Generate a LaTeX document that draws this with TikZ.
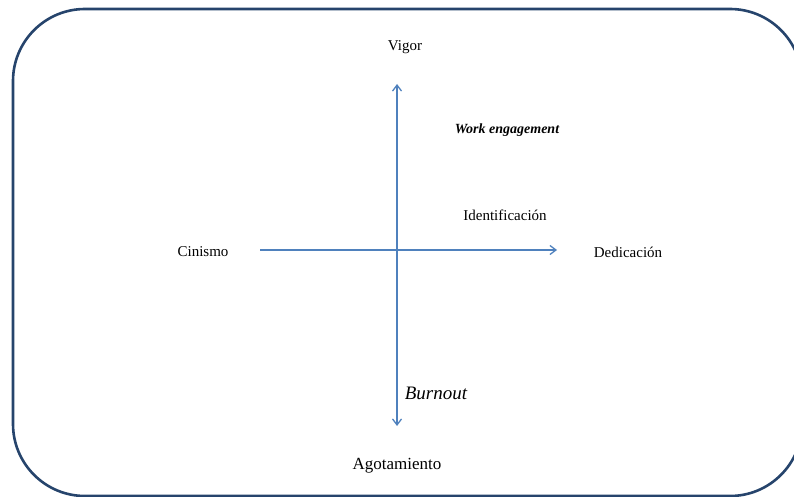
\documentclass[tikz,border=0pt]{standalone}
\usepackage{fontspec}
\setmainfont{Liberation Serif}
\usetikzlibrary{arrows.meta}
\definecolor{frameblue}{RGB}{38,68,108}
\definecolor{axisblue}{RGB}{79,129,189}

\begin{document}
\begin{tikzpicture}[x=1pt,y=-1pt,
    lbl/.style={inner sep=0pt,font=\fontsize{15}{17}\selectfont},
    axis/.style={draw=axisblue,line width=1.3pt,-{Straight Barb[length=6pt,width=9pt]}}]
        \clip (0,0) rectangle (794,497);
        \draw[frameblue,line width=2.6pt,rounded corners=72pt] (13,9) rectangle (802,496);

        \node[lbl] (vig) at (405,47) {Vigor};
        \node[lbl] (cin) at (203,252) {Cinismo};
        \node[lbl] (ded) at (628,252) {Dedicación};
        \node[lbl] (ide) at (505,215) {Identificación};
        \node[lbl,font=\fontsize{14}{16}\selectfont\bfseries\itshape] (we) at (507,130) {Work engagement};
        \node[lbl,font=\fontsize{19}{21}\selectfont\itshape] (bo) at (436,393) {Burnout};
        \node[lbl,font=\fontsize{17}{19}\selectfont] (ago) at (397,466) {Agotamiento};

        \coordinate (top) at (397,84); \coordinate (bot) at (397,426);
        \coordinate (lft) at (260,250); \coordinate (rgt) at (557,250);
        \draw[axis,{Straight Barb[length=6pt,width=9pt]}-{Straight Barb[length=6pt,width=9pt]}] (bot) -- (top);
        \draw[axis] (lft) -- (rgt);
      \end{tikzpicture}
\end{document}
